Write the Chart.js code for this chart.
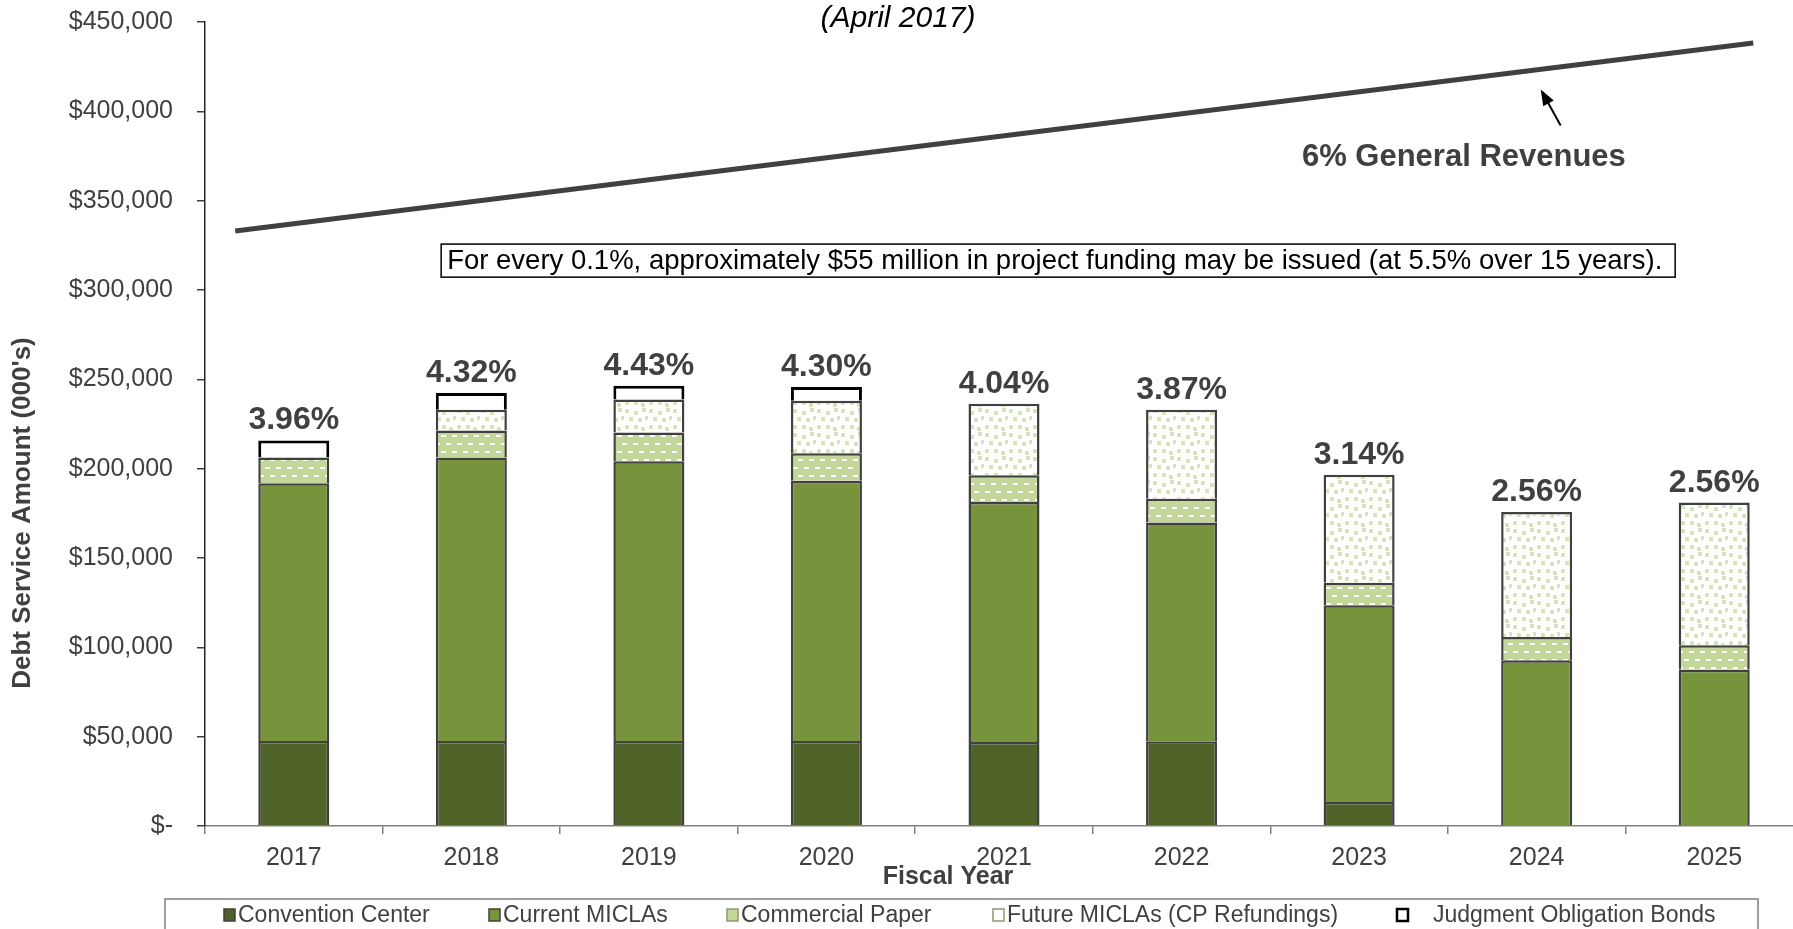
<!DOCTYPE html>
<html>
<head>
<meta charset="utf-8">
<script src="https://cdn.jsdelivr.net/npm/chart.js@4.4.1/dist/chart.umd.min.js"></script>
<style>
html,body{margin:0;padding:0;overflow:hidden;background:#fff;width:1793px;height:929px;}
#wrap{position:absolute;left:0;top:0;width:1810px;height:929px;}
canvas{display:block;}
</style>
</head>
<body>
<div id="wrap"><canvas id="c" width="1810" height="929" style="width:1810px;height:929px"></canvas></div>
<script>
// ---- data (thousands of dollars) ----
const years = ['2017','2018','2019','2020','2021','2022','2023','2024','2025'];
const conventionCenter = [47600, 47600, 47600, 47600, 47000, 47400, 13500, 0, 0];
const currentMICLAs    = [144300, 158600, 156600, 145700, 134300, 122400, 110000, 92800, 87500];
const commercialPaper  = [14400, 15200, 16000, 15300, 15000, 13400, 12700, 13000, 13600];
const futureMICLAs     = [0, 11600, 18500, 29400, 40100, 49800, 60400, 69900, 79900];
const judgmentBonds    = [9500, 9300, 7700, 7700, 0, 0, 0, 0, 0];
const shareLabels      = ['3.96%','4.32%','4.43%','4.30%','4.04%','3.87%','3.14%','2.56%','2.56%'];
// 6% General Revenues line (x in category units from axis start, y in $000s)
const revenueLineX = [0.17, 8.72];
const revenueLineY = [333000, 438200];
const seriesNames = ['Convention Center','Current MICLAs','Commercial Paper','Future MICLAs (CP Refundings)','Judgment Obligation Bonds'];
const yMax = 450000, yStep = 50000;

const FONT = '"Liberation Sans", Arial, sans-serif';
const TXT = '#404040';

function cpPattern(){
  const c = document.createElement('canvas'); c.width = 22; c.height = 16;
  const g = c.getContext('2d');
  g.fillStyle = '#c4d79b'; g.fillRect(0,0,22,16);
  g.fillStyle = '#ffffff';
  [[1,3],[12,3],[6,11],[17,11]].forEach(([x,y]) => g.fillRect(x,y,5,2));
  return g.createPattern(c,'repeat');
}
function futurePattern(){
  const c = document.createElement('canvas'); c.width = 24; c.height = 24;
  const g = c.getContext('2d');
  g.fillStyle = '#ffffff'; g.fillRect(0,0,24,24);
  g.fillStyle = '#d6e4bb';
  [[1,1],[10,3],[18,0],[5,9],[14,10],[21,8],[1,17],[10,17],[17,19]]
    .forEach(([x,y]) => g.fillRect(x,y,4,4));
  return g.createPattern(c,'repeat');
}
const nz = a => a.map(v => v === 0 ? null : v);

const fills = ['#4f6228', '#77933c', cpPattern(), futurePattern(), '#ffffff'];
const legendFills = ['#4f6228', '#77933c', '#c4d79b', '#ffffff', '#ffffff'];
const legendBorders = ['#404040', '#404040', '#8a9a70', '#8a9a70', '#000000'];

const barBase = {type:'bar', xAxisID:'x', yAxisID:'y', stack:'debt', grouped:false,
  borderColor:'#404040', borderWidth:2.5, borderSkipped:'bottom', barPercentage:0.4, categoryPercentage:1.0};

const overlay = {
  id:'overlay',
  afterDatasetsDraw(chart){
    const {ctx} = chart;
    const x = chart.scales.x, y = chart.scales.y, xl = chart.scales.xl, yl = chart.scales.yl;
    ctx.save();
    // percentage labels
    ctx.font = 'bold 32px ' + FONT;
    ctx.fillStyle = TXT; ctx.textAlign = 'center'; ctx.textBaseline = 'alphabetic';
    years.forEach((yr,i) => {
      const total = conventionCenter[i] + currentMICLAs[i] + commercialPaper[i] + futureMICLAs[i] + judgmentBonds[i];
      ctx.fillText(shareLabels[i], x.getPixelForValue(i), y.getPixelForValue(total) - 11);
    });
    // note box
    const bx0 = xl.getPixelForValue(1.33), bx1 = xl.getPixelForValue(8.28);
    const by0 = yl.getPixelForValue(325700), by1 = yl.getPixelForValue(307200);
    ctx.fillStyle = '#ffffff'; ctx.fillRect(bx0, by0, bx1-bx0, by1-by0);
    ctx.strokeStyle = '#000'; ctx.lineWidth = 1.5; ctx.strokeRect(bx0, by0, bx1-bx0, by1-by0);
    ctx.fillStyle = '#000'; ctx.textAlign = 'left'; ctx.textBaseline = 'middle';
    ctx.font = '27.5px ' + FONT;
    ctx.fillText('For every 0.1%, approximately $55 million in project funding may be issued (at 5.5% over 15 years).', bx0 + 6, (by0+by1)/2 + 1);
    // revenue label
    ctx.font = 'bold 31px ' + FONT; ctx.fillStyle = TXT; ctx.textAlign = 'center';
    ctx.fillText('6% General Revenues', xl.getPixelForValue(7.09), yl.getPixelForValue(374200));
    // arrow
    const ax0 = xl.getPixelForValue(7.635), ay0 = yl.getPixelForValue(392100);
    const ax1 = xl.getPixelForValue(7.523), ay1 = yl.getPixelForValue(412250);
    const ang = Math.atan2(ay1-ay0, ax1-ax0);
    ctx.strokeStyle = '#000'; ctx.lineWidth = 2;
    ctx.beginPath(); ctx.moveTo(ax0, ay0);
    ctx.lineTo(ax1 - 10*Math.cos(ang), ay1 - 10*Math.sin(ang)); ctx.stroke();
    ctx.fillStyle = '#000'; ctx.beginPath();
    ctx.moveTo(ax1, ay1);
    ctx.lineTo(ax1 - 16*Math.cos(ang) + 6*Math.sin(ang), ay1 - 16*Math.sin(ang) - 6*Math.cos(ang));
    ctx.lineTo(ax1 - 16*Math.cos(ang) - 6*Math.sin(ang), ay1 - 16*Math.sin(ang) + 6*Math.cos(ang));
    ctx.closePath(); ctx.fill();
    // title
    ctx.font = 'italic 30px ' + FONT; ctx.fillStyle = '#000'; ctx.textAlign = 'center'; ctx.textBaseline = 'middle';
    ctx.fillText('(April 2017)', 898, 19);
    // axis titles
    ctx.fillStyle = TXT; ctx.font = 'bold 25px ' + FONT;
    ctx.fillText('Fiscal Year', 948, 877);
    ctx.save(); ctx.translate(23, 513); ctx.rotate(-Math.PI/2);
    ctx.font = 'bold 26px ' + FONT; ctx.fillText("Debt Service Amount (000's)", 0, 0); ctx.restore();
    // legend
    ctx.strokeStyle = '#7f7f7f'; ctx.lineWidth = 1.5;
    ctx.strokeRect(165, 899, 1758-165, 50);
    const lx = [224, 489, 727, 993, 1397];
    const toff = [14, 14, 14, 14, 36];
    ctx.font = '23px ' + FONT; ctx.textAlign = 'left'; ctx.textBaseline = 'middle';
    seriesNames.forEach((nm,i) => {
      ctx.fillStyle = legendFills[i]; ctx.fillRect(lx[i], 909, 11, 12);
      ctx.strokeStyle = legendBorders[i]; ctx.lineWidth = i === 4 ? 2.5 : 1.5;
      ctx.strokeRect(lx[i], 909, 11, 12);
      ctx.fillStyle = TXT; ctx.fillText(nm, lx[i] + toff[i], 916);
    });
    ctx.restore();
  }
};

new Chart(document.getElementById('c'), {
  data: {
    labels: years,
    datasets: [
      Object.assign({}, barBase, {label: seriesNames[0], data: nz(conventionCenter), backgroundColor: fills[0]}),
      Object.assign({}, barBase, {label: seriesNames[1], data: nz(currentMICLAs), backgroundColor: fills[1]}),
      Object.assign({}, barBase, {label: seriesNames[2], data: nz(commercialPaper), backgroundColor: fills[2]}),
      Object.assign({}, barBase, {label: seriesNames[3], data: nz(futureMICLAs), backgroundColor: fills[3]}),
      Object.assign({}, barBase, {label: seriesNames[4], data: nz(judgmentBonds), backgroundColor: fills[4], borderColor:'#000', borderWidth:3}),
      {type:'line', label:'6% General Revenues', xAxisID:'xl', yAxisID:'yl',
       data: revenueLineX.map((v,i) => ({x:v, y:revenueLineY[i]})),
       borderColor:'#404040', borderWidth:5, pointRadius:0, fill:false, tension:0, borderCapStyle:'butt'}
    ]
  },
  options: {
    responsive:false, animation:false, devicePixelRatio:1,
    layout:{padding:{top:22, right:7, bottom:0, left:0}},
    plugins:{legend:{display:false}, tooltip:{enabled:false}, title:{display:false}},
    scales:{
      x:{type:'category', offset:true, stacked:true, position:'bottom',
         grid:{display:true, drawOnChartArea:false, tickLength:8, color:'#808080', lineWidth:1.5, offset:true},
         border:{display:true, color:'#808080', width:1.5},
         ticks:{font:{family:FONT, size:25}, color:TXT, padding:9, maxRotation:0},
         afterFit(s){ s.height = 103; s.paddingLeft = 0; s.paddingRight = 0; }},
      xl:{type:'linear', display:false, min:0, max:9},
      y:{stacked:true, min:0, max:yMax, position:'left',
         ticks:{stepSize:yStep, font:{family:FONT, size:25}, color:TXT, padding:24,
                callback: v => v === 0 ? '$-' : '$' + v.toLocaleString('en-US')},
         grid:{display:true, drawOnChartArea:false, tickLength:8, color:'#404040', lineWidth:1.5},
         border:{display:true, color:'#262626', width:1.5},
         afterFit(s){ s.width = 205; s.paddingTop = 0; s.paddingBottom = 0; }},
      yl:{type:'linear', display:false, min:0, max:yMax}
    }
  },
  plugins:[overlay]
});
</script>
</body>
</html>
